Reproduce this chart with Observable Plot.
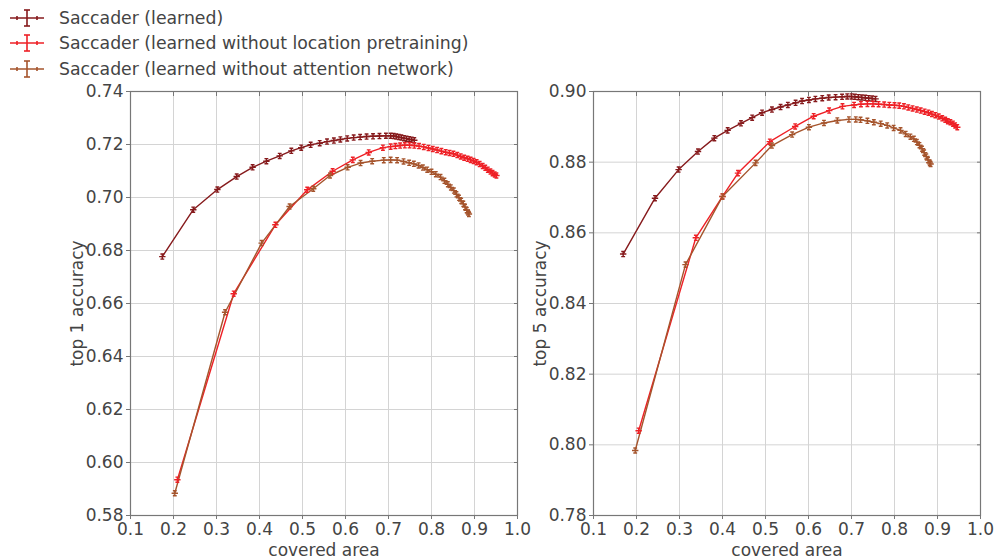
<!DOCTYPE html>
<html>
<head>
<meta charset="utf-8">
<script src="https://cdn.jsdelivr.net/npm/d3@7"></script>
<script src="https://cdn.jsdelivr.net/npm/@observablehq/plot@0.6"></script>
<style>
  body { margin: 0; background: #fff; font-family: "DejaVu Sans", sans-serif; }
  #wrap { position: relative; width: 995px; height: 558px; overflow: hidden; }
  #legend { position: absolute; left: 0; top: 0; width: 600px; height: 80px; }
  .row { position: absolute; left: 8px; height: 24px; display: flex; align-items: center; color: #444; font-size: 17.3px; }
  .row svg { margin-right: 13px; }
  #left { position: absolute; left: 0; top: 80px; }
  #right { position: absolute; left: 528px; top: 80px; }
  svg { overflow: visible; }
</style>
</head>
<body>
<div id="wrap">
  <div id="legend"></div>
  <div id="left"></div>
  <div id="right"></div>
</div>
<script>
// ---- data ----
const seriesNames = [
  "Saccader (learned)",
  "Saccader (learned without location pretraining)",
  "Saccader (learned without attention network)"
];
const seriesColors = ["#861a1c", "#ee2026", "#a5542c"];

const xTicks = [0.1, 0.2, 0.3, 0.4, 0.5, 0.6, 0.7, 0.8, 0.9, 1.0];
const top1Ticks = [0.58, 0.60, 0.62, 0.64, 0.66, 0.68, 0.70, 0.72, 0.74];
const top5Ticks = [0.78, 0.80, 0.82, 0.84, 0.86, 0.88, 0.90];

// top-1 accuracy vs covered area
const top1Learned = [[0.174,0.6777],[0.246,0.6954],[0.302,0.7030],[0.347,0.7079],[0.384,0.7114],[0.416,0.7137],[0.447,0.7157],[0.474,0.7176],[0.497,0.7188],[0.519,0.7199],[0.540,0.7205],[0.557,0.7211],[0.573,0.7215],[0.588,0.7219],[0.604,0.7223],[0.619,0.7226],[0.634,0.7228],[0.649,0.7230],[0.664,0.7231],[0.679,0.7232],[0.694,0.7233],[0.705,0.7233],[0.712,0.7232],[0.718,0.7230],[0.724,0.7228],[0.730,0.7226],[0.736,0.7224],[0.742,0.7222],[0.748,0.7220],[0.754,0.7218],[0.760,0.7216]];
const top1NoLoc = [[0.209,0.5935],[0.340,0.6637],[0.437,0.6897],[0.511,0.7029],[0.570,0.7099],[0.617,0.7142],[0.654,0.7170],[0.687,0.7188],[0.705,0.7192],[0.716,0.7194],[0.727,0.7196],[0.738,0.7197],[0.749,0.7197],[0.760,0.7196],[0.771,0.7194],[0.782,0.7191],[0.793,0.7187],[0.803,0.7183],[0.813,0.7179],[0.823,0.7175],[0.833,0.7171],[0.842,0.7168],[0.851,0.7165],[0.860,0.7160],[0.868,0.7155],[0.876,0.7150],[0.884,0.7146],[0.891,0.7142],[0.898,0.7138],[0.905,0.7133],[0.912,0.7126],[0.919,0.7119],[0.925,0.7112],[0.931,0.7105],[0.937,0.7098],[0.942,0.7092],[0.947,0.7087],[0.951,0.7083]];
const top1NoAtt = [[0.203,0.5884],[0.320,0.6567],[0.405,0.6828],[0.470,0.6966],[0.525,0.7033],[0.564,0.7083],[0.605,0.7114],[0.635,0.7130],[0.662,0.7137],[0.689,0.7141],[0.705,0.7142],[0.720,0.7141],[0.735,0.7136],[0.748,0.7131],[0.759,0.7127],[0.770,0.7121],[0.780,0.7113],[0.790,0.7105],[0.800,0.7097],[0.810,0.7088],[0.821,0.7077],[0.830,0.7063],[0.838,0.7050],[0.845,0.7038],[0.852,0.7026],[0.858,0.7012],[0.864,0.6999],[0.869,0.6987],[0.874,0.6976],[0.878,0.6964],[0.882,0.6952],[0.885,0.6943],[0.887,0.6938]];

// top-5 accuracy vs covered area
const top5Learned = [[0.169,0.8540],[0.243,0.8698],[0.298,0.8779],[0.343,0.8830],[0.381,0.8868],[0.412,0.8890],[0.443,0.8910],[0.469,0.8926],[0.492,0.8940],[0.515,0.8949],[0.535,0.8956],[0.552,0.8962],[0.570,0.8968],[0.585,0.8973],[0.601,0.8976],[0.616,0.8979],[0.632,0.8981],[0.647,0.8983],[0.663,0.8984],[0.678,0.8985],[0.690,0.8986],[0.700,0.8986],[0.708,0.8985],[0.716,0.8984],[0.724,0.8983],[0.732,0.8982],[0.740,0.8981],[0.748,0.8980],[0.756,0.8979]];
const top5NoLoc = [[0.205,0.8040],[0.338,0.8586],[0.400,0.8703],[0.436,0.8769],[0.510,0.8858],[0.569,0.8901],[0.612,0.8930],[0.648,0.8946],[0.679,0.8958],[0.706,0.8962],[0.722,0.8964],[0.737,0.8965],[0.750,0.8965],[0.763,0.8964],[0.776,0.8963],[0.788,0.8962],[0.800,0.8961],[0.811,0.8960],[0.822,0.8958],[0.832,0.8955],[0.842,0.8952],[0.852,0.8949],[0.861,0.8946],[0.870,0.8943],[0.879,0.8940],[0.887,0.8936],[0.895,0.8933],[0.903,0.8929],[0.911,0.8924],[0.918,0.8920],[0.924,0.8916],[0.930,0.8913],[0.936,0.8909],[0.941,0.8904],[0.946,0.8899]];
const top5NoAtt = [[0.197,0.7984],[0.314,0.8510],[0.400,0.8703],[0.477,0.8798],[0.515,0.8847],[0.562,0.8878],[0.601,0.8899],[0.636,0.8911],[0.667,0.8918],[0.694,0.8921],[0.710,0.8921],[0.721,0.8920],[0.737,0.8917],[0.752,0.8913],[0.768,0.8909],[0.783,0.8904],[0.798,0.8897],[0.814,0.8890],[0.826,0.8880],[0.837,0.8872],[0.845,0.8866],[0.852,0.8857],[0.858,0.8848],[0.864,0.8838],[0.869,0.8827],[0.874,0.8816],[0.878,0.8806],[0.882,0.8798],[0.884,0.8795]];

// ---- build tables ----
function table(list) {
  const out = [];
  list.forEach((pts, i) => pts.forEach(([x, y]) => out.push({s: seriesNames[i], x, y})));
  return out;
}
const rows1 = table([top1Learned, top1NoLoc, top1NoAtt]);
const rows5 = table([top5Learned, top5NoLoc, top5NoAtt]);

// error-bar glyph (horizontal + vertical bar with caps)
const errSym = {
  draw(ctx, size) {
    const r = Math.sqrt(size / Math.PI);
    const h = r * 0.8, c = r * 0.6;
    ctx.moveTo(-r, 0); ctx.lineTo(r, 0);
    ctx.moveTo(0, -h); ctx.lineTo(0, h);
    ctx.moveTo(-c, -h); ctx.lineTo(c, -h);
    ctx.moveTo(-c, h); ctx.lineTo(c, h);
  }
};

function chart(rows, yTicks, yLabel, width, marginLeft, marginRight) {
  return Plot.plot({
    width, height: 478,
    marginLeft, marginRight, marginTop: 11, marginBottom: 43,
    style: {fontFamily: "DejaVu Sans, sans-serif", fontSize: "15px", color: "#444", background: "transparent"},
    x: {domain: [0.1, 1.0]},
    y: {domain: [yTicks[0], yTicks[yTicks.length - 1]]},
    color: {domain: seriesNames, range: seriesColors},
    marks: [
      Plot.gridX(xTicks, {stroke: "#d4d4d4", strokeOpacity: 1}),
      Plot.gridY(yTicks, {stroke: "#d4d4d4", strokeOpacity: 1}),
      Plot.axisX(xTicks, {tickFormat: d3.format(".1f"), tickSize: 4, tickPadding: 3, stroke: "#777",
        label: "covered area", labelAnchor: "center", labelArrow: "none", labelOffset: 40, fontSize: 17}),
      Plot.axisY(yTicks, {tickFormat: d3.format(".2f"), tickSize: 4, tickPadding: 3, stroke: "#777",
        label: yLabel, labelAnchor: "center", labelArrow: "none", labelOffset: 60, fontSize: 17}),
      Plot.axisX(xTicks, {anchor: "top", tickSize: -4, tickFormat: () => "", stroke: "#777", label: null}),
      Plot.axisY(yTicks, {anchor: "right", tickSize: -4, tickFormat: () => "", stroke: "#777", label: null}),
      Plot.frame({stroke: "#777", strokeWidth: 1.2}),
      Plot.line(rows, {x: "x", y: "y", z: "s", stroke: "s", strokeWidth: 1.4}),
      Plot.dot(rows, {x: "x", y: "y", stroke: "s", symbol: errSym, r: 3.2, strokeWidth: 1.4, fill: "none"})
    ]
  });
}

document.getElementById("left").append(chart(rows1, top1Ticks, "top 1 accuracy", 528, 130, 11));
document.getElementById("right").append(chart(rows5, top5Ticks, "top 5 accuracy", 467, 65, 15));

// legend
const legend = document.getElementById("legend");
const rowTops = [6, 31, 57];
seriesNames.forEach((name, i) => {
  const row = document.createElement("div");
  row.className = "row";
  row.style.top = rowTops[i] + "px";
  const c = seriesColors[i];
  row.innerHTML = `<svg width="38" height="22" viewBox="0 0 38 22">
    <g stroke="${c}" stroke-width="1.6" fill="none">
      <line x1="2" y1="11" x2="36" y2="11"/>
      <line x1="19" y1="3" x2="19" y2="19"/>
      <line x1="16" y1="3" x2="22" y2="3"/>
      <line x1="16" y1="19" x2="22" y2="19"/>
      <line x1="9" y1="9" x2="9" y2="13"/>
      <line x1="29" y1="9" x2="29" y2="13"/>
    </g></svg><span>${name}</span>`;
  legend.append(row);
});
</script>
</body>
</html>
